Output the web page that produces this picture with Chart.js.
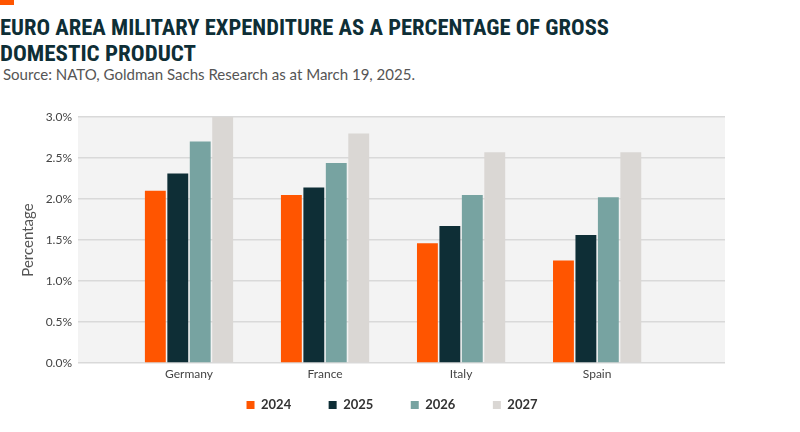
<!DOCTYPE html>
<html>
<head>
<meta charset="utf-8">
<script src="https://cdn.jsdelivr.net/npm/chart.js@4"></script>
<style>
  html, body { margin:0; padding:0; background:#fff; width:800px; height:432px; overflow:hidden; }
  #wrap { position:relative; width:800px; height:432px; }
  #mark { position:absolute; left:0; top:0; width:14px; height:5px; background:#FF5500; }
  .t { position:absolute; left:0; white-space:nowrap; transform-origin:0 0;
       font-family:"Liberation Sans Narrow","Roboto Condensed","Roboto",sans-serif; font-weight:bold;
       font-size:22px; color:#0E2E36; line-height:22px; }
  #t1 { top:17px; }
  #t2 { top:43px; }
  #sub { position:absolute; left:3px; top:66px; white-space:nowrap; transform-origin:0 0;
         font-family:"Lato","Open Sans",sans-serif; font-size:15px; color:#555; line-height:16px; }
  canvas { position:absolute; left:0; top:0; }
</style>
</head>
<body>
<div id="wrap">
  <div id="mark"></div>
  <div class="t" id="t1">EURO AREA MILITARY EXPENDITURE AS A PERCENTAGE OF GROSS</div>
  <div class="t" id="t2">DOMESTIC PRODUCT</div>
  <div id="sub">Source: NATO, Goldman Sachs Research as at March 19, 2025.</div>
  <canvas id="c" width="800" height="432"></canvas>
</div>
<script>
const categories = ['Germany', 'France', 'Italy', 'Spain'];
const seriesNames = ['2024', '2025', '2026', '2027'];
const v2024 = [2.10, 2.05, 1.46, 1.25];
const v2025 = [2.31, 2.14, 1.67, 1.56];
const v2026 = [2.70, 2.44, 2.05, 2.02];
const v2027 = [3.00, 2.80, 2.57, 2.57];
const yTicks = [0, 0.5, 1.0, 1.5, 2.0, 2.5, 3.0];

const colors = ['#FF5500', '#0E2E36', '#77A3A1', '#DAD7D4'];
const allValues = [v2024, v2025, v2026, v2027];

function fitWidth(id, w) {
  const el = document.getElementById(id);
  const cw = el.getBoundingClientRect().width;
  el.style.transform = 'scaleX(' + (w / cw) + ')';
}
fitWidth('t1', 609);
fitWidth('t2', 196);
fitWidth('sub', 412);

// legend label text padded with trailing spaces to reach the reference item pitch
const legendFont = 'bold 13px Lato';
const mctx = document.createElement('canvas').getContext('2d');
mctx.font = legendFont;
function padLabel(t, w) {
  let s = t;
  while (mctx.measureText(s + ' ').width <= w) s += ' ';
  return s;
}

const bgPlugin = {
  id: 'bg',
  beforeDraw(chart) {
    const a = chart.chartArea, ctx = chart.ctx;
    ctx.save();
    ctx.fillStyle = '#F3F3F3';
    ctx.fillRect(a.left, a.top, a.right - a.left, a.bottom - a.top);
    ctx.restore();
  }
};

const datasets = seriesNames.map((name, i) => ({
  label: name,
  data: categories.map((c, j) => ({ x: j + 1, y: allValues[i][j] })),
  backgroundColor: colors[i],
  borderWidth: 0,
  categoryPercentage: 0.66,
  barPercentage: 0.93
}));

new Chart(document.getElementById('c'), {
  type: 'bar',
  data: { datasets },
  plugins: [bgPlugin],
  options: {
    responsive: false,
    animation: false,
    layout: { padding: { left: 19, right: 75, top: 117, bottom: 10.5 } },
    plugins: {
      legend: {
        position: 'bottom',
        fullSize: false,
        labels: {
          boxWidth: 8, boxHeight: 8, padding: 18.5,
          color: '#333',
          font: { family: 'Lato', size: 13, weight: 'bold' },
          generateLabels(chart) {
            const items = Chart.defaults.plugins.legend.labels.generateLabels(chart);
            items.forEach(it => { it.text = padLabel(it.text, 51); it.lineWidth = 0; });
            return items;
          }
        }
      },
      tooltip: { enabled: false }
    },
    scales: {
      x: {
        type: 'linear',
        min: 0.184, max: 4.94,
        offset: false,
        grid: { display: false, drawTicks: false },
        border: { display: false },
        afterBuildTicks(scale) { scale.ticks = categories.map((c, j) => ({ value: j + 1 })); },
        afterFit(scale) { scale.height = 17; },
        ticks: {
          autoSkip: false,
          padding: 4,
          color: '#444',
          font: { family: 'Lato', size: 12 },
          callback: (v) => categories[Math.round(v) - 1] || ''
        }
      },
      y: {
        min: 0, max: 3.0,
        afterBuildTicks(scale) { scale.ticks = yTicks.map(v => ({ value: v })); },
        afterFit(scale) { scale.width = 59; },
        grid: { color: '#D9D9D9', lineWidth: 1.5, drawTicks: false },
        border: { display: false },
        ticks: {
          padding: 6,
          color: '#444',
          font: { family: 'Lato', size: 12 },
          callback: (v) => v.toFixed(1) + '%'
        },
        title: {
          display: true, text: 'Percentage', color: '#555',
          font: { family: 'Lato', size: 15 },
          padding: { top: 0, bottom: 0 }
        }
      }
    }
  }
});
</script>
</body>
</html>
